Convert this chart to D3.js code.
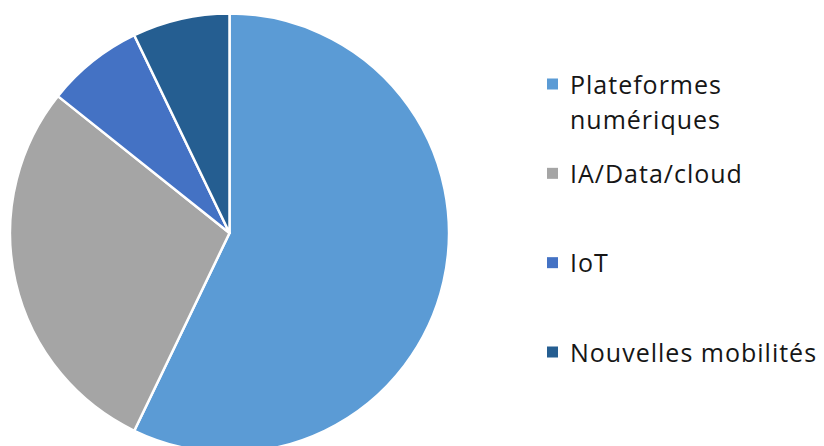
<!DOCTYPE html>
<html>
<head>
<meta charset="utf-8">
<script src="https://cdn.jsdelivr.net/npm/d3@7"></script>
<style>
  body { margin: 0; background: #fff; }
  svg { display: block; }
</style>
</head>
<body>
<svg id="chart"></svg>
<script>
// categories and values (8 / 4 / 1 / 1)
var categories = ["Plateformes numériques", "IA/Data/cloud", "IoT", "Nouvelles mobilités"]
var values = [8, 4, 1, 1]
var colors = ["#5B9BD5", "#A5A5A5", "#4472C4", "#255E91"]
// legend text lines
var legendLines = [["Plateformes", "numériques"], ["IA/Data/cloud"], ["IoT"], ["Nouvelles mobilités"]]

var dimensions = {
    width: 824,
    height: 446,
    cx: 229.5,
    cy: 233,
    radius: 219.5
}

var data = categories.map(function (c, i) { return { name: c, value: values[i] } })

var svg = d3.select("#chart")
    .attr("width", dimensions.width)
    .attr("height", dimensions.height)

var color = d3.scaleOrdinal().domain(categories).range(colors)

var pie = d3.pie()
    .value(d => d.value)
    .sort(null)

var arc = d3.arc()
    .innerRadius(0)
    .outerRadius(dimensions.radius)

svg.append("g")
    .attr("transform", "translate(" + dimensions.cx + "," + dimensions.cy + ")")
    .selectAll("path")
    .data(pie(data))
    .enter()
    .append("path")
    .attr("d", arc)
    .attr("fill", d => color(d.data.name))
    .attr("stroke", "#fff")
    .attr("stroke-width", 2.5)
    .attr("stroke-linejoin", "round")

//legend
var legendY = d3.scalePoint()
    .domain(categories)
    .range([84, 352])

var legend = svg.append("g")
    .selectAll("g")
    .data(categories)
    .enter()
    .append("g")
    .attr("transform", d => "translate(547," + legendY(d) + ")")

legend.append("rect")
    .attr("x", 0)
    .attr("y", -5.5)
    .attr("width", 11)
    .attr("height", 11)
    .attr("fill", d => color(d))

legend.append("text")
    .attr("x", 23)
    .attr("y", 9.5)
    .style("font-family", "'Open Sans', sans-serif")
    .style("font-size", "25px")
    .style("letter-spacing", "1px")
    .style("fill", "#161616")
    .selectAll("tspan")
    .data((d, i) => legendLines[i])
    .enter()
    .append("tspan")
    .attr("x", 23)
    .attr("dy", (d, i) => i == 0 ? 0 : 35)
    .text(d => d)
</script>
</body>
</html>
